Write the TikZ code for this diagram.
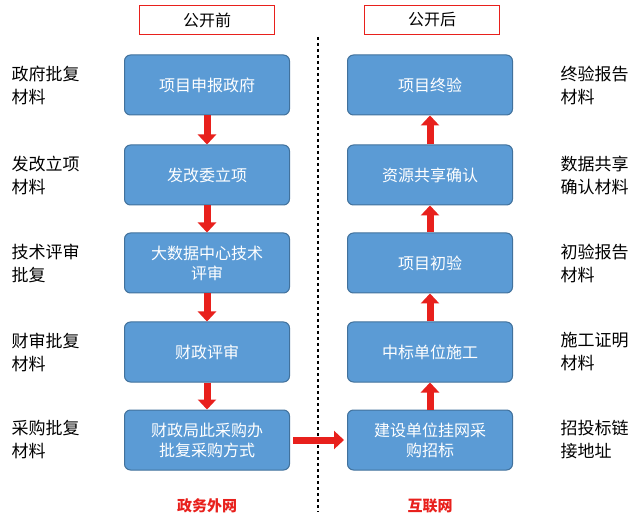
\documentclass[tikz,border=0pt]{standalone}
\usepackage{fontspec}
\setmainfont{Noto Sans CJK SC}
\usetikzlibrary{arrows.meta}
\definecolor{bfill}{HTML}{5B9BD5}
\definecolor{bline}{HTML}{41719C}
\definecolor{ared}{HTML}{E8201C}
\begin{document}
\begin{tikzpicture}[x=1pt,y=-1pt,
  box/.style={draw=bline,line width=1pt,fill=bfill,rounded corners=6pt,minimum width=165pt,minimum height=60pt,align=center,text=white,font=\fontsize{16}{20}\selectfont,text width=150pt},
  hdr/.style={draw=ared,line width=1.2pt,minimum width=135pt,minimum height=29pt,font=\fontsize{16}{20}\selectfont},
  side/.style={anchor=west,align=left,font=\fontsize{17}{23}\selectfont},
  rarr/.style={draw=ared,line width=7pt,-{Triangle[width=18pt,length=10pt]}}]
\useasboundingbox (0,0) rectangle (640,529);
\node[hdr] (h1) at (207,20) {公开前};
\node[hdr] (h2) at (432,20) {公开后};
\draw[dashed,line width=2pt] (318,37) coordinate (d1) -- (318,512) coordinate (d2);
\foreach \i/\y/\t in {1/85/项目申报政府,2/175/发改委立项,3/263/大数据中心技术\\评审,4/352/财政评审,5/440/财政局此采购办\\批复采购方式}
  \node[box] (L\i) at (207,\y) {\t};
\foreach \i/\y/\t in {1/85/项目终验,2/175/资源共享确认,3/263/项目初验,4/352/中标单位施工,5/440/建设单位挂网采\\购招标}
  \node[box] (R\i) at (430,\y) {\t};
\foreach \a/\b in {1/2,2/3,3/4,4/5}{
  \draw[rarr] (L\a.south) -- (L\b.north);
  \draw[rarr] (R\b.north) -- (R\a.south);
}
\draw[rarr] (L5.east) ++(3,0) coordinate (ha) -- ([xshift=-3pt]R5.west);
\foreach \i/\y/\t in {1/85/政府批复\\材料,2/175/发改立项\\材料,3/263/技术评审\\批复,4/352/财审批复\\材料,5/440/采购批复\\材料}
  \node[side] (SL\i) at (8,\y) {\t};
\foreach \i/\y/\t in {1/85/终验报告\\材料,2/175/数据共享\\确认材料,3/263/初验报告\\材料,4/352/施工证明\\材料,5/440/招投标链\\接地址}
  \node[side] (SR\i) at (557,\y) {\t};
\node[text=ared,font=\bfseries\fontsize{15}{18}\selectfont] (b1) at (207,506) {政务外网};
\node[text=ared,font=\bfseries\fontsize{15}{18}\selectfont] (b2) at (430,506) {互联网};
\end{tikzpicture}
\end{document}
